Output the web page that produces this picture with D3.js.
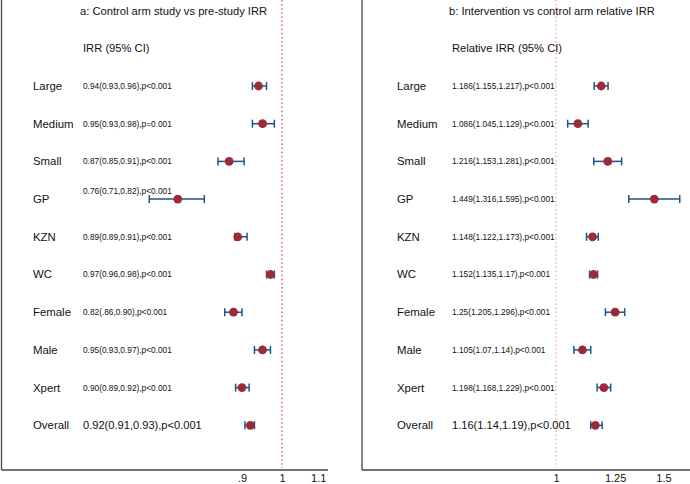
<!DOCTYPE html>
<html>
<head>
<meta charset="utf-8">
<script src="https://cdn.jsdelivr.net/npm/d3@7"></script>
<style>
  html, body { margin: 0; padding: 0; background: #fff; }
  svg { display: block; }
  text { font-family: "Liberation Sans", Arial, Helvetica, sans-serif; fill: #111; }
</style>
</head>
<body>
<svg id="chart" width="690" height="484"></svg>
<script>
// ---------- data ----------
const categories = ["Large","Medium","Small","GP","KZN","WC","Female","Male","Xpert","Overall"];

// Panel a: Control arm study vs pre-study IRR
const titleA = "a: Control arm study vs pre-study IRR";
const headerA = "IRR (95% CI)";
const estA  = [0.94, 0.95, 0.87, 0.76, 0.89, 0.97, 0.88, 0.95, 0.90, 0.92];
const lowA  = [0.925,0.925,0.845,0.705,0.883,0.96, 0.86, 0.93, 0.885,0.907];
const highA = [0.96, 0.98, 0.905,0.815,0.912,0.98, 0.90, 0.97, 0.917,0.93];
const labelsA = [
  "0.94(0.93,0.96),p<0.001",
  "0.95(0.93,0.98),p=0.001",
  "0.87(0.85,0.91),p<0.001",
  "0.76(0.71,0.82),p<0.001",
  "0.89(0.89,0.91),p<0.001",
  "0.97(0.96,0.98),p<0.001",
  "0.82(.86,0.90),p<0.001",
  "0.95(0.93,0.97),p<0.001",
  "0.90(0.89,0.92),p<0.001",
  "0.92(0.91,0.93),p<0.001"
];
const ticksA = [0.9, 1, 1.1];
const tickLabelsA = [".9", "1", "1.1"];

// Panel b: Intervention vs control arm relative IRR
const titleB = "b: Intervention vs control arm relative IRR";
const headerB = "Relative IRR (95% CI)";
const estB  = [1.186, 1.086, 1.216, 1.449, 1.148, 1.152, 1.25,  1.105, 1.198, 1.16];
const lowB  = [1.155, 1.045, 1.153, 1.316, 1.122, 1.135, 1.205, 1.07,  1.168, 1.14];
const highB = [1.217, 1.129, 1.281, 1.595, 1.173, 1.17,  1.296, 1.14,  1.229, 1.19];
const labelsB = [
  "1.186(1.155,1.217),p<0.001",
  "1.086(1.045,1.129),p<0.001",
  "1.216(1.153,1.281),p<0.001",
  "1.449(1.316,1.595),p<0.001",
  "1.148(1.122,1.173),p<0.001",
  "1.152(1.135,1.17),p<0.001",
  "1.25(1.205,1.296),p<0.001",
  "1.105(1.07,1.14),p<0.001",
  "1.198(1.168,1.229),p<0.001",
  "1.16(1.14,1.19),p<0.001"
];
const ticksB = [1, 1.25, 1.5];
const tickLabelsB = ["1", "1.25", "1.5"];

// ---------- drawing ----------
const svg = d3.select("#chart");
const axisY = 470;

const rowKeys = ["__title", "__header", ...categories];
const y = d3.scalePoint().domain(rowKeys).range([10.6, 425.3]);

const dotColor = "#9b2c37";
const ciColor = "#1f5383";

function panel(opts) {
  const g = svg.append("g");
  const x = opts.x;

  // left frame line
  g.append("line")
    .attr("x1", opts.left).attr("x2", opts.left)
    .attr("y1", 0).attr("y2", axisY)
    .attr("stroke", "#444").attr("stroke-width", 1.3);

  // reference dotted line at 1
  g.append("line")
    .attr("x1", x(1)).attr("x2", x(1))
    .attr("y1", 0).attr("y2", axisY - 2)
    .attr("stroke", opts.refColor).attr("stroke-width", 1.2)
    .attr("stroke-dasharray", "1.5,2.6");

  // bottom axis
  const axis = d3.axisBottom(x)
    .tickValues(opts.ticks)
    .tickFormat((d, i) => opts.tickLabels[i])
    .tickSize(0)
    .tickPadding(3);
  const ag = g.append("g").attr("transform", `translate(0,${axisY})`).call(axis);
  ag.select(".domain").remove();
  ag.selectAll("text")
    .style("font-family", '"Liberation Sans", Arial, Helvetica, sans-serif')
    .style("font-size", "11px").attr("fill", "#111").attr("dy", "0.78em");
  g.append("line")
    .attr("x1", opts.left).attr("x2", opts.right)
    .attr("y1", axisY).attr("y2", axisY)
    .attr("stroke", "#444").attr("stroke-width", 1.3);

  // title + header
  g.append("text").attr("x", opts.textX - 3).attr("y", y("__title"))
    .attr("dy", "0.35em").style("font-size", "11.2px").text(opts.title);
  g.append("text").attr("x", opts.textX).attr("y", y("__header"))
    .attr("dy", "0.35em").style("font-size", "11.2px").text(opts.header);

  categories.forEach((c, i) => {
    const cy = y(c);
    const big = c === "Overall";
    g.append("text").attr("x", opts.catX).attr("y", cy)
      .attr("dy", "0.35em").style("font-size", "11.4px").text(c);
    const lift = (opts.liftGP && c === "GP") ? -8 : 0;
    g.append("text").attr("x", opts.textX).attr("y", cy + lift)
      .attr("dy", "0.35em").style("font-size", big ? "11.1px" : "8.3px")
      .text(opts.labels[i]);

    const x1 = x(opts.low[i]), x2 = x(opts.high[i]);
    g.append("line").attr("x1", x1).attr("x2", x2).attr("y1", cy).attr("y2", cy)
      .attr("stroke", ciColor).attr("stroke-width", 1.5);
    [x1, x2].forEach(xx => {
      g.append("line").attr("x1", xx).attr("x2", xx)
        .attr("y1", cy - 4).attr("y2", cy + 4)
        .attr("stroke", ciColor).attr("stroke-width", 1.5);
    });
    g.append("circle").attr("cx", x(opts.est[i])).attr("cy", cy).attr("r", 4.4)
      .attr("fill", dotColor);
  });
}

const xA = d3.scaleLog().domain([0.9, 1.1]).range([242, 282 + 380 * Math.log(1.1)]);
panel({
  x: xA, left: 1.5, right: 328, catX: 33, textX: 83,
  title: titleA, header: headerA, labels: labelsA,
  est: estA, low: lowA, high: highA,
  ticks: ticksA, tickLabels: tickLabelsA,
  refColor: "#e5336b", liftGP: true
});

const xB = d3.scaleLog().domain([1, 1.5]).range([556, 556 + 265 * Math.log(1.5)]);
panel({
  x: xB, left: 362, right: 690, catX: 397, textX: 452,
  title: titleB, header: headerB, labels: labelsB,
  est: estB, low: lowB, high: highB,
  ticks: ticksB, tickLabels: tickLabelsB,
  refColor: "#f29ab3", liftGP: false
});
</script>
</body>
</html>
